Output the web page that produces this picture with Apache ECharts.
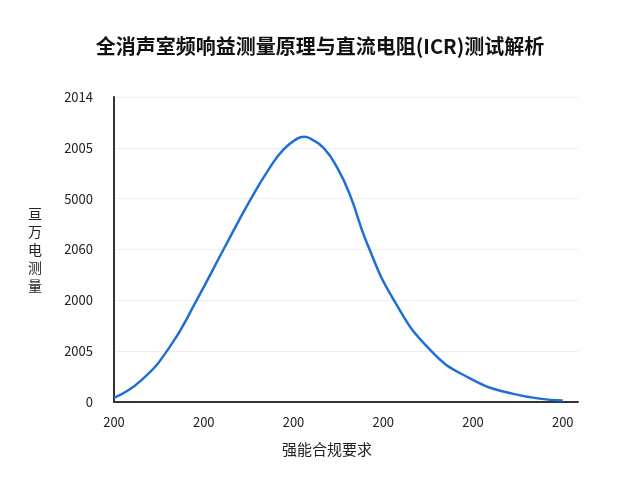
<!DOCTYPE html>
<html>
<head>
<meta charset="utf-8">
<script src="https://cdn.jsdelivr.net/npm/echarts@6/dist/echarts.min.js"></script>
<style>
  html, body { margin: 0; padding: 0; background: #fff; }
  #main { width: 640px; height: 480px; }
</style>
</head>
<body>
<div id="main"></div>
<script>
// 标题与坐标轴文字
const title = '全消声室频响益测量原理与直流电阻(ICR)测试解析';
const xName = '强能合规要求';
const yName = '亘万电测量';

// 刻度标签(原图文字)
const xTickLabels = ['200', '200', '200', '200', '200', '200'];
const yTickLabels = ['0', '2005', '2000', '2060', '5000', '2005', '2014'];

// 曲线数据
const xValues = [0, 0.3, 0.62, 0.92, 1.22, 1.52, 1.74, 1.89, 2.04, 2.12, 2.19, 2.34, 2.49, 2.63, 2.82, 3.12, 3.52, 3.95, 4.45, 5.0];
const yValues = [0.08, 0.42, 1.08, 2.0, 3.0, 3.98, 4.62, 4.97, 5.18, 5.22, 5.18, 4.99, 4.6, 4.07, 3.12, 2.0, 1.03, 0.48, 0.16, 0.03];

const chart = echarts.init(document.getElementById('main'));
const font = '"Noto Sans CJK SC", "Noto Sans", sans-serif';

chart.setOption({
    backgroundColor: '#fff',
    animation: false,
    title: {
        text: title,
        left: 'center',
        top: 31,
        textStyle: { fontSize: 20, fontWeight: 'bold', color: '#111', fontFamily: font }
    },
    grid: { left: 114, right: 62, top: 97, bottom: 78 },
    xAxis: {
        type: 'value',
        min: 0,
        max: 5.17,
        interval: 1,
        name: xName,
        nameLocation: 'middle',
        nameGap: 40,
        nameTextStyle: { fontSize: 15, color: '#222', fontFamily: font, padding: [0, 38, 0, 0] },
        axisLine: { lineStyle: { color: '#333', width: 2 } },
        axisTick: { show: false },
        splitLine: { show: false },
        axisLabel: {
            showMaxLabel: false,
            margin: 14,
            fontSize: 13,
            color: '#222',
            fontFamily: font,
            formatter: v => xTickLabels[Math.round(v)] || ''
        }
    },
    yAxis: {
        type: 'value',
        min: 0,
        max: 6,
        interval: 1,
        name: yName.split('').join('\n'),
        nameLocation: 'middle',
        nameRotate: 0,
        nameGap: 72,
        nameTextStyle: { fontSize: 14, lineHeight: 18, color: '#222', fontFamily: font },
        axisLine: { show: true, lineStyle: { color: '#333', width: 2 } },
        axisTick: { show: false },
        splitLine: { lineStyle: { color: '#eeeeee', width: 1 } },
        axisLabel: {
            margin: 21,
            fontSize: 13,
            color: '#222',
            fontFamily: font,
            formatter: v => yTickLabels[Math.round(v)] || ''
        }
    },
    series: [{
        type: 'line',
        smooth: 0.5,
        showSymbol: false,
        data: xValues.map((x, i) => [x, yValues[i]]),
        lineStyle: { color: '#1f6fd6', width: 2.5 }
    }]
});
</script>
</body>
</html>
